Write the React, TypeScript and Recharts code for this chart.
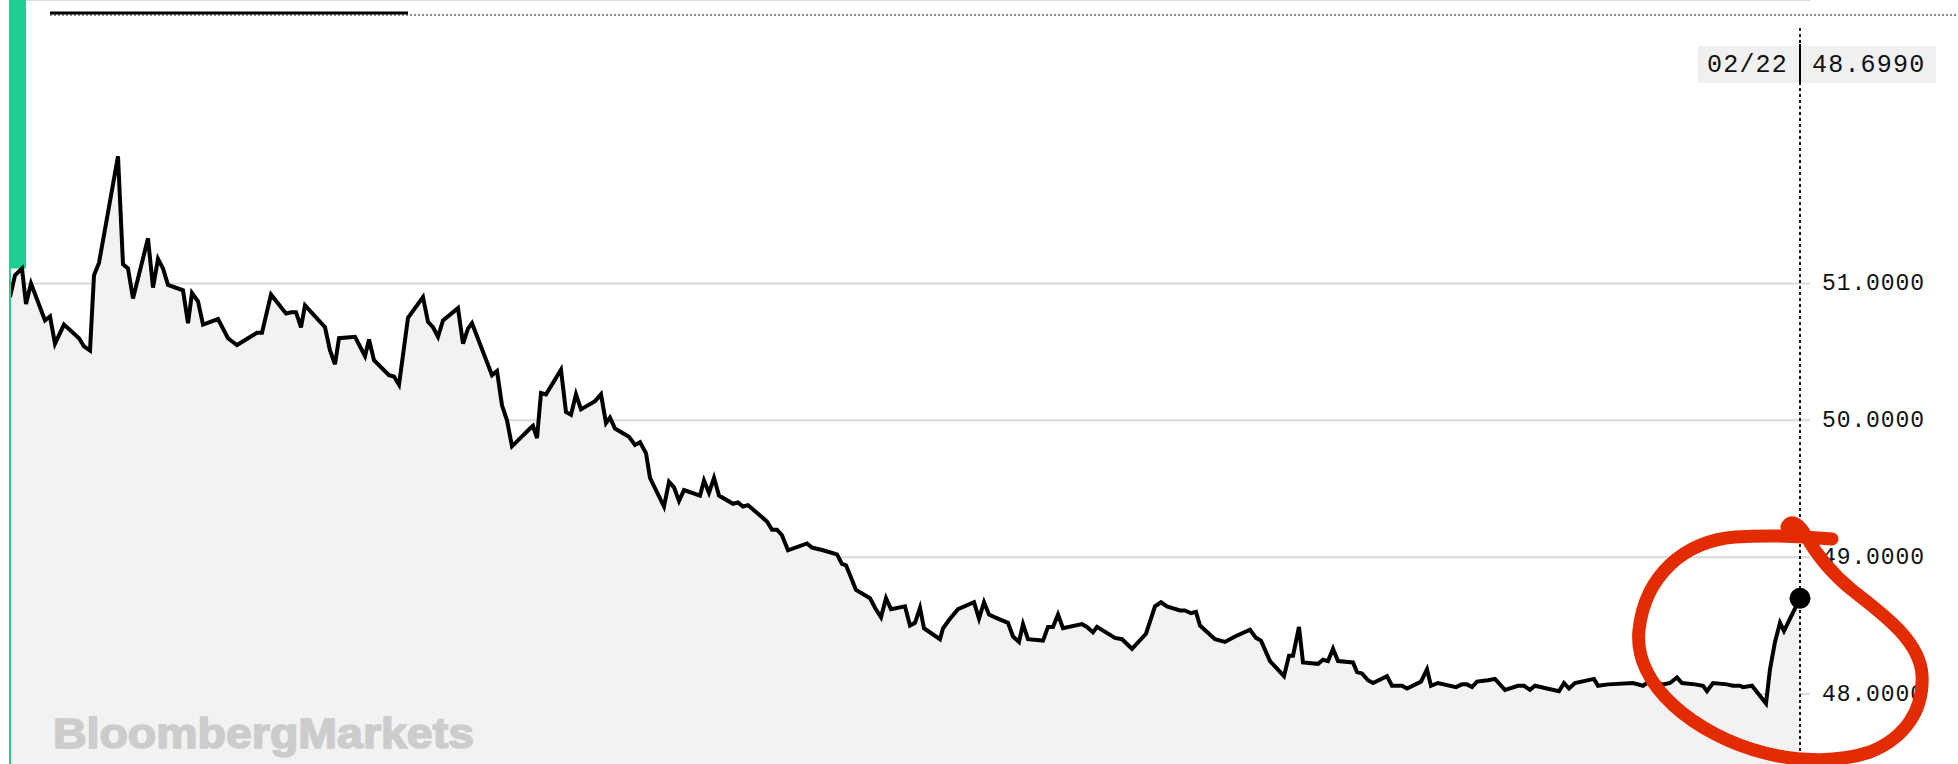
import React from "react";
import { Area, AreaChart, CartesianGrid, ReferenceArea, ReferenceDot, ReferenceLine, XAxis, YAxis } from "recharts";

// position along the time axis (days back from the left edge)
const days = [
  0, 0.5, 1.2, 1.6, 2.1, 3.5, 4.0, 4.5, 5.4, 6.9, 7.4, 8.0, 8.4, 8.9, 10.8, 11.3, 11.8, 12.3, 13.8, 14.3,
  14.8, 15.3, 15.8, 17.3, 17.8, 18.2, 18.8, 19.3, 20.8, 21.8, 22.7, 24.7, 25.2, 26.1, 27.6, 28.1, 28.6, 29.1,
  29.5, 31.5, 32.0, 32.5, 32.9, 34.5, 35.5, 35.9, 36.4, 37.9, 38.4, 38.9, 39.8, 41.3, 41.8, 42.3, 42.8, 43.3,
  44.8, 45.3, 45.8,
  46.2, 48.2, 48.7, 49.2, 49.7, 50.2, 52.0, 52.3, 52.7, 53.1, 53.6, 55.1, 55.6, 56.1, 56.6, 57.1, 58.5, 59.1,
  59.6, 60.0, 60.5, 61.9, 62.5, 63.0, 63.6, 64.0, 65.4, 65.9, 66.4, 66.9, 67.4, 69.0, 69.4, 69.9, 70.4, 70.9,
  72.3, 72.8, 73.3, 73.8, 75.7, 76.2, 76.7, 77.2, 77.8,
  79.7, 80.2, 81.3, 82.7, 83.2, 83.6, 84.0, 84.6, 86.0, 86.5, 87.1, 87.6, 88.1, 89.5, 90.0, 90.5, 91.0, 91.4,
  93.0, 93.3, 94.0, 94.8, 96.4, 96.9, 97.4, 97.9, 98.5, 99.8, 100.3, 100.9, 101.3, 101.8, 103.3, 103.8, 104.3,
  104.8, 105.3, 107.2, 107.7, 108.3, 108.7,
  110.5, 111.2, 112.2, 113.6, 114.5, 115.1, 115.7, 117.0, 117.5, 118.1, 118.6, 119.0, 120.5, 121.5, 122.5,
  124.0, 124.6, 125.1, 126.0, 127.4, 127.9, 128.3, 128.9, 129.3, 130.8, 131.3, 131.8, 132.3, 132.8, 134.3,
  134.7, 135.2, 135.8, 136.3, 137.7, 138.2, 139.2, 139.7, 141.1, 141.7, 142.1, 142.8,
  144.6, 145.2, 145.7, 146.2, 146.7, 147.8, 148.5, 149.5, 150.8, 151.4, 152.0, 152.5, 153.7, 154.9, 155.4,
  155.9, 156.5, 158.4, 158.8, 159.8, 162.3, 163.3, 163.9, 164.7, 165.3, 166.0, 166.7, 167.2, 168.5, 169.3,
  169.7, 170.3, 171.7, 172.3, 173.0, 173.3, 174.2, 175.6, 176.0, 176.5, 177.0, 177.4, 178.0, 179.0,
];

const prices = [
  50.9, 51.06, 51.11, 50.85, 51.0, 50.73, 50.76, 50.56, 50.7, 50.6, 50.54, 50.51, 51.06, 51.15, 51.93, 51.14,
  51.11, 50.89, 51.33, 50.97, 51.18, 51.11, 50.99, 50.95, 50.71, 50.93, 50.87, 50.7, 50.74, 50.6, 50.55, 50.64,
  50.64, 50.92, 50.78, 50.79, 50.79, 50.68, 50.84, 50.68, 50.51, 50.41, 50.6, 50.61, 50.47, 50.59, 50.44, 50.33,
  50.32, 50.26, 50.75, 50.9, 50.72, 50.68, 50.61, 50.73, 50.82, 50.56, 50.67,
  50.71, 50.33, 50.36, 50.11, 50.0, 49.81, 49.94, 49.96, 49.87, 50.2, 50.19, 50.37, 50.06, 50.04, 50.19, 50.08,
  50.14, 50.19, 49.98, 50.02, 49.94, 49.88, 49.82, 49.84, 49.76, 49.58, 49.37, 49.55, 49.51, 49.41, 49.49, 49.45,
  49.56, 49.47, 49.58, 49.45, 49.39, 49.4, 49.37, 49.38, 49.26, 49.2, 49.2, 49.16, 49.05,
  49.1, 49.07, 49.05, 49.02, 48.95, 48.94, 48.87, 48.76, 48.7, 48.63, 48.56, 48.7, 48.62, 48.64, 48.5, 48.52,
  48.63, 48.48, 48.4, 48.48, 48.55, 48.62, 48.67, 48.55, 48.67, 48.58, 48.56, 48.52, 48.42, 48.38, 48.51, 48.4,
  48.39, 48.49, 48.49, 48.58, 48.48, 48.51, 48.49, 48.45, 48.49,
  48.41, 48.4, 48.33, 48.44, 48.64, 48.67, 48.64, 48.61, 48.61, 48.59, 48.6, 48.5, 48.4, 48.38, 48.42, 48.47,
  48.41, 48.39, 48.24, 48.13, 48.28, 48.28, 48.49, 48.23, 48.22, 48.25, 48.24, 48.33, 48.24, 48.23, 48.16, 48.15,
  48.1, 48.08, 48.13, 48.06, 48.06, 48.04, 48.09, 48.18, 48.06, 48.08,
  48.05, 48.07, 48.07, 48.05, 48.09, 48.1, 48.11, 48.03, 48.06, 48.06, 48.03, 48.06, 48.04, 48.02, 48.08, 48.04,
  48.08, 48.11, 48.06, 48.07, 48.08, 48.06, 48.09, 48.08, 48.07, 48.08, 48.12, 48.08, 48.07, 48.06, 48.02, 48.08,
  48.07, 48.06, 48.06, 48.05, 48.06, 47.93, 48.18, 48.38, 48.52, 48.46, 48.55, 48.699,
];

const yTicks = [48, 49, 50, 51];
const yDomain: [number, number] = [47.488, 53.072];
const xDomain: [number, number] = [0, 180];
const lastDate = "02/22";
const lastPrice = 48.699;

const green = "#1ecf94";
const fill = "#f2f2f2";
const grid = "#d9d9d9";
const mono = "'Liberation Mono', 'DejaVu Sans Mono', monospace";

const W = 1958;
const H = 764;
const labelX = 1822;

function PriceTick(props: any) {
  const { y, payload } = props;
  return (
    <text x={labelX} y={y} dy={7} fontFamily={mono} fontSize={23} letterSpacing={0.9} fill="#111" textAnchor="start">
      {Number(payload.value).toFixed(4)}
    </text>
  );
}

export default function App() {
  const rows = days.map((d, i) => ({ day: d, price: prices[i] }));
  const last = rows[rows.length - 1];

  return (
    <div style={{ position: "absolute", left: 0, top: 0, width: W, height: H, background: "#fff", overflow: "hidden" }}>
      <AreaChart width={W} height={H} data={rows} margin={{ top: 0, right: 0, bottom: 0, left: 10 }}>
        <CartesianGrid vertical={false} stroke={grid} strokeWidth={2} />
        <XAxis dataKey="day" type="number" domain={xDomain} hide allowDataOverflow />
        <YAxis
          orientation="right"
          width={148}
          domain={yDomain}
          ticks={yTicks}
          allowDataOverflow
          axisLine={false}
          tickLine={false}
          tick={<PriceTick />}
        />
        <ReferenceArea x1={0} x2={1.6} y1={51.11} y2={yDomain[1]} fill={green} fillOpacity={1} stroke="none" />
        <Area
          type="linear"
          dataKey="price"
          stroke="#000"
          strokeWidth={4}
          fill={fill}
          fillOpacity={1}
          dot={false}
          activeDot={false}
          isAnimationActive={false}
        />
        <ReferenceLine x={0} stroke={green} strokeWidth={2} />
        <ReferenceLine
          segment={[
            { x: last.day, y: 52.867 },
            { x: last.day, y: yDomain[0] },
          ]}
          stroke="#111"
          strokeWidth={2}
          strokeDasharray="3 3"
        />
        <ReferenceDot x={last.day} y={lastPrice} r={10.5} fill="#000" stroke="none" />
      </AreaChart>

      <svg width={W} height={H} style={{ position: "absolute", left: 0, top: 0, pointerEvents: "none" }}>
        <line x1={50} x2={W} y1={15} y2={15} stroke="#8a8a8a" strokeWidth={2} strokeDasharray="2 2" />
        <line x1={50} x2={408} y1={13} y2={13} stroke="#000" strokeWidth={3} />

        <rect x={1698} y={46} width={238} height={37} fill="#f0f0f0" />
        <line x1={1800} x2={1800} y1={44} y2={83} stroke="#000" strokeWidth={2} />
        <text x={1788} y={72} fontFamily={mono} fontSize={25} letterSpacing={1.2} fill="#111" textAnchor="end">
          {lastDate}
        </text>
        <text x={1812} y={72} fontFamily={mono} fontSize={25} letterSpacing={1.2} fill="#111">
          {lastPrice.toFixed(4)}
        </text>

        <text
          x={53}
          y={748}
          fontFamily="'Liberation Sans', Arial, sans-serif"
          fontWeight={700}
          fontSize={42}
          textLength={421}
          lengthAdjust="spacingAndGlyphs"
          fill="#cccccc"
          stroke="#cccccc"
          strokeWidth={1.6}
        >
          BloombergMarkets
        </text>

        <path
          d="M 1832 539 C 1800 536 1765 535 1735 537 C 1685 541 1645 575 1639 630 C 1633 685 1695 735 1765 753 C 1800 762 1840 762 1870 752 C 1905 738 1924 710 1922 675 C 1920 640 1880 612 1852 590 C 1830 572 1815 552 1806 536 C 1800 525 1791 518 1787 527"
          fill="none"
          stroke="#e22b00"
          strokeWidth={13}
          strokeLinecap="round"
          strokeLinejoin="round"
        />
      </svg>
    </div>
  );
}
